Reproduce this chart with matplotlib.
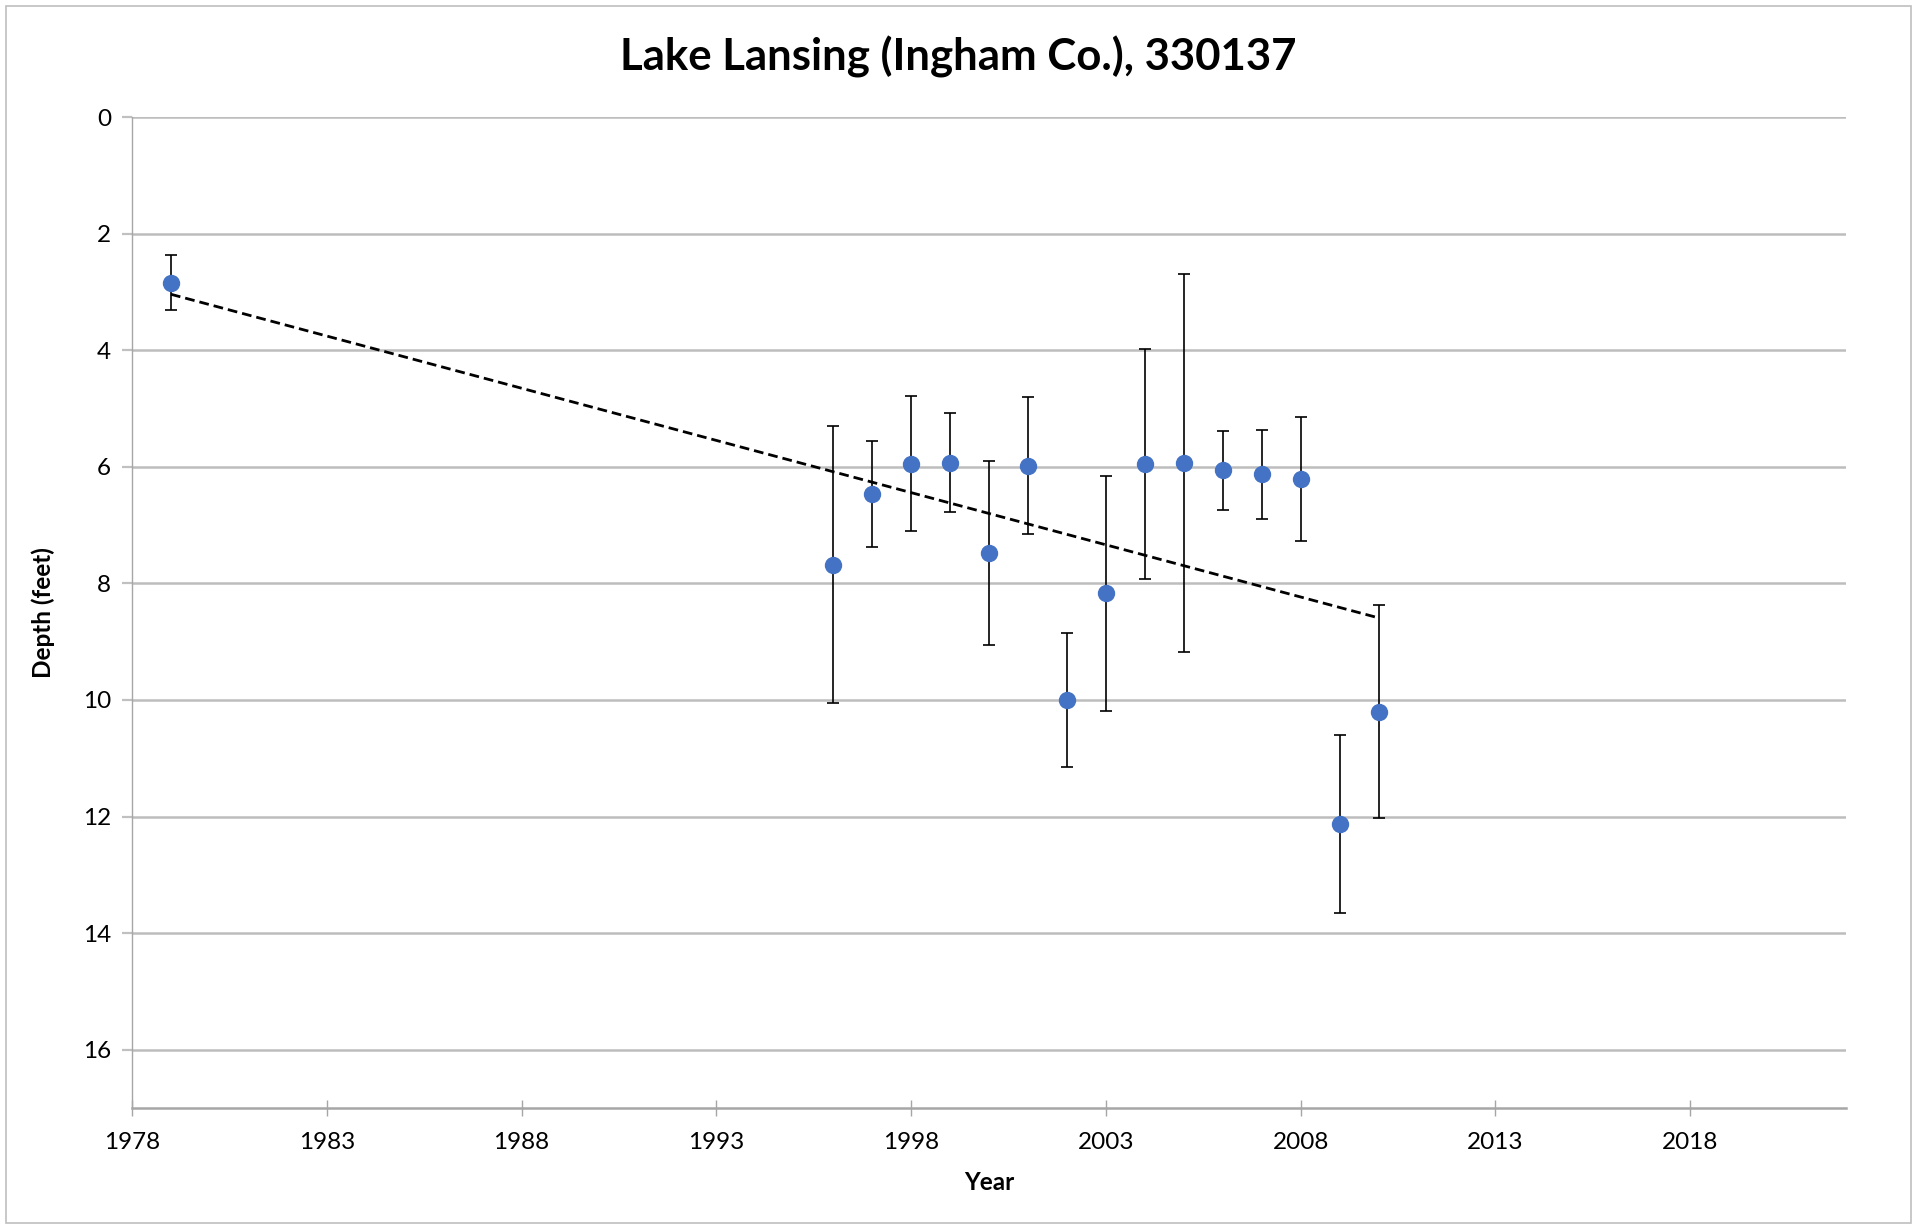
import matplotlib
matplotlib.use("Agg")
import matplotlib.pyplot as plt
from matplotlib.patches import Rectangle
import numpy as np

years = [1979, 1996, 1997, 1998, 1999, 2000, 2001, 2002, 2003, 2004,
         2005, 2006, 2007, 2008, 2009, 2010]
depths = [2.84, 7.68, 6.47, 5.95, 5.93, 7.48, 5.98, 10.00, 8.17, 5.95,
          5.94, 6.06, 6.13, 6.21, 12.13, 10.20]
errors = [0.47, 2.38, 0.91, 1.16, 0.85, 1.58, 1.17, 1.15, 2.02, 1.97,
          3.24, 0.68, 0.76, 1.07, 1.53, 1.83]
x_ticks = [1978, 1983, 1988, 1993, 1998, 2003, 2008, 2013, 2018]
y_ticks = [0, 2, 4, 6, 8, 10, 12, 14, 16]

plt.rcParams['font.family'] = ['Lato', 'DejaVu Sans']

W, H = 1917, 1229
fig = plt.figure(figsize=(W / 100, H / 100), dpi=100)
ax = fig.add_axes([132 / W, 1 - 1108 / H, (1846 - 132) / W, (1108 - 117) / H])

# trendline (linear fit)
coef = np.polyfit(years, depths, 1)
tx = np.array([min(years), max(years)])
ax.plot(tx, np.polyval(coef, tx), color='black', lw=2.0, dashes=(3.5, 1.8), zorder=4)

ax.errorbar(years, depths, yerr=errors, fmt='o', color='#4472C4', ms=11.5,
            ecolor='black', elinewidth=1.2, capsize=4, capthick=1.2, zorder=3)

ax.set_xlim(1978, 2022)
ax.set_ylim(17, 0)
ax.set_xticks(x_ticks)
ax.set_yticks(y_ticks)
ax.grid(axis='y', color='#bdbdbd', lw=1.8, zorder=0)
ax.set_axisbelow(True)

for s in ['top', 'right']:
    ax.spines[s].set_visible(False)
ax.spines['left'].set_color('#a6a6a6')
ax.spines['left'].set_linewidth(1.0)
ax.spines['bottom'].set_color('#a6a6a6')
ax.spines['bottom'].set_linewidth(1.8)

ax.tick_params(axis='x', direction='inout', length=12, width=1.0, color='#a6a6a6',
               labelsize=17.5, pad=11, labelcolor='black')
ax.tick_params(axis='y', direction='out', length=7, width=1.6, color='#c0c0c0',
               labelsize=17.5, pad=8, labelcolor='black')

ax.set_xlabel('Year', fontsize=17.5, fontweight='bold', labelpad=13)
ax.set_ylabel('Depth (feet)', fontsize=17.5, fontweight='bold', labelpad=20)

fig.text(0.5, 1 - 57 / H, 'Lake Lansing (Ingham Co.), 330137', ha='center', va='center',
         fontsize=31.5, fontweight='bold')

fig.patches.append(Rectangle((6 / W, 6 / H), (1911 - 6) / W, (1223 - 6) / H,
                             transform=fig.transFigure, fill=False,
                             edgecolor='#bfbfbf', lw=1.2))

fig.savefig('out.png', dpi=100)
